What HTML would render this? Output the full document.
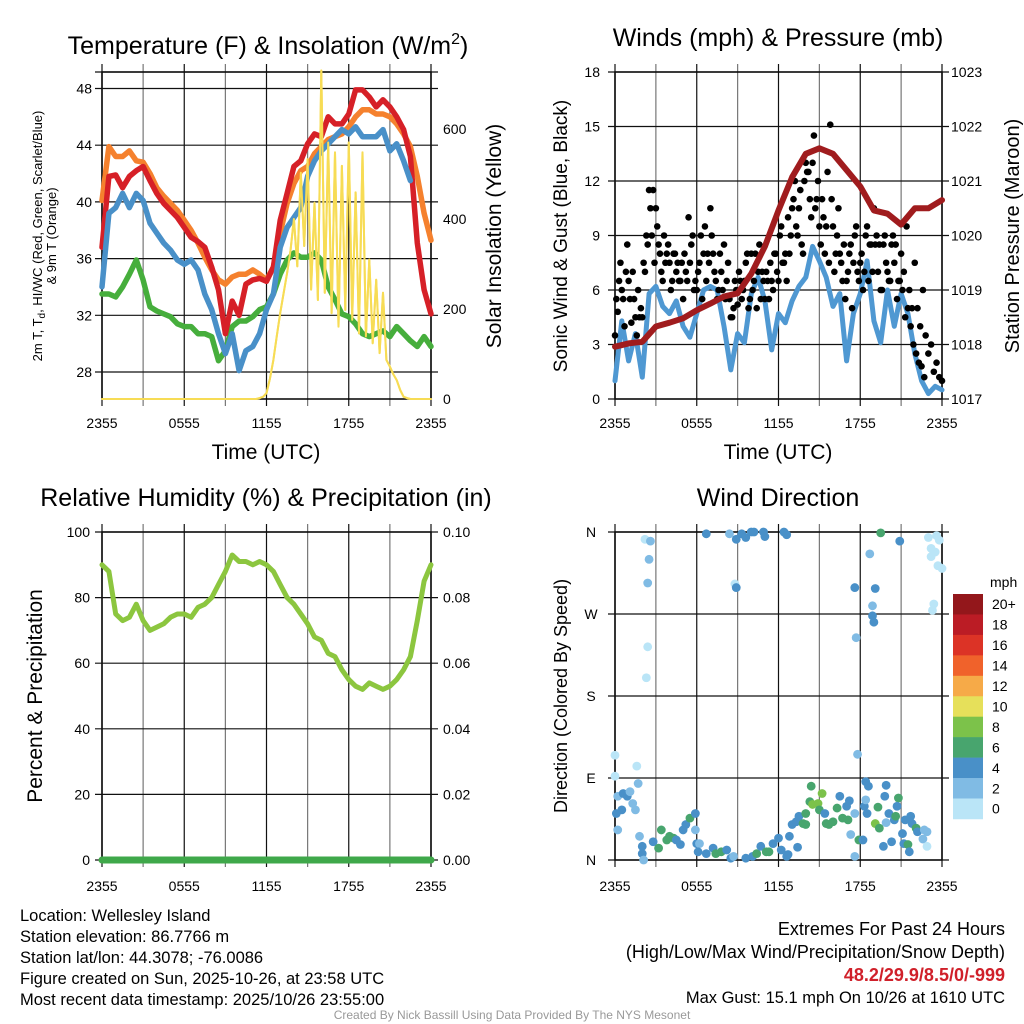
<!DOCTYPE html>
<html><head><meta charset="utf-8">
<style>
html,body{margin:0;padding:0;background:#fff;}
svg{display:block;font-family:"Liberation Sans",sans-serif;}
</style></head>
<body>
<svg id="chart" width="1024" height="1024" viewBox="0 0 1024 1024" xmlns="http://www.w3.org/2000/svg">
<rect x="0" y="0" width="1024" height="1024" fill="#fff"/>
<g id="p1"></g>
<g id="p2"></g>
<g id="p3"></g>
<g id="p4"></g>
<g id="txt">
<text x="268" y="54" font-size="25" text-anchor="middle">Temperature (F) &amp; Insolation (W/m<tspan font-size="16" dy="-10">2</tspan><tspan dy="10">)</tspan></text>
<text x="778" y="46" font-size="25" text-anchor="middle">Winds (mph) &amp; Pressure (mb)</text>
<text x="266" y="506" font-size="25" text-anchor="middle">Relative Humidity (%) &amp; Precipitation (in)</text>
<text x="778" y="506" font-size="25" text-anchor="middle">Wind Direction</text>
<text x="266" y="459" font-size="21" text-anchor="middle">Time (UTC)</text>
<text x="778" y="459" font-size="21" text-anchor="middle">Time (UTC)</text>
<text transform="translate(42,236) rotate(-90)" font-size="13" text-anchor="middle">2m T, T<tspan font-size="10" dy="3">d</tspan><tspan dy="-3">, HI/WC (Red, Green, Scarlet/Blue)</tspan></text>
<text transform="translate(56,236) rotate(-90)" font-size="13" text-anchor="middle">&amp; 9m T (Orange)</text>
<text transform="translate(501,236) rotate(-90)" font-size="21" text-anchor="middle">Solar Insolation (Yellow)</text>
<text transform="translate(567,236) rotate(-90)" font-size="19" text-anchor="middle">Sonic Wind &amp; Gust (Blue, Black)</text>
<text transform="translate(1019,236) rotate(-90)" font-size="20" text-anchor="middle">Station Pressure (Maroon)</text>
<text transform="translate(42,696) rotate(-90)" font-size="21" text-anchor="middle">Percent &amp; Precipitation</text>
<text transform="translate(567,696) rotate(-90)" font-size="18" text-anchor="middle">Direction (Colored By Speed)</text>
<g font-size="16.5">
<text x="20" y="921">Location: Wellesley Island</text>
<text x="20" y="942">Station elevation: 86.7766 m</text>
<text x="20" y="963">Station lat/lon: 44.3078; -76.0086</text>
<text x="20" y="984">Figure created on Sun, 2025-10-26, at 23:58 UTC</text>
<text x="20" y="1005">Most recent data timestamp: 2025/10/26 23:55:00</text>
</g>
<g font-size="18" text-anchor="end">
<text x="1005" y="935">Extremes For Past 24 Hours</text>
<text x="1005" y="958">(High/Low/Max Wind/Precipitation/Snow Depth)</text>
<text x="1005" y="981" fill="#d0202a" font-weight="bold">48.2/29.9/8.5/0/-999</text>
<text x="1005" y="1003" font-size="16.5">Max Gust: 15.1 mph On 10/26 at 1610 UTC</text>
</g>
<text x="512" y="1019" font-size="12" fill="#999" text-anchor="middle">Created By Nick Bassill Using Data Provided By The NYS Mesonet</text>
</g>
</svg>
<script>
// ---------- data ----------
const xTickLabels = ["2355","0555","1155","1755","2355"];
const tempTicks = [28,32,36,40,44,48];
const solarTicks = [0,200,400,600];
const windTicks = [0,3,6,9,12,15,18];
const pressTicks = [1017,1018,1019,1020,1021,1022,1023];
const rhTicks = [0,20,40,60,80,100];
const precipTicks = ["0.00","0.02","0.04","0.06","0.08","0.10"];
const dirTicks = ["N","E","S","W","N"];

const tempRed = [36.8,41.8,41.9,41,41.8,42.2,42.5,41.5,40.6,39.9,39.4,38.9,38.2,37.5,37.2,36.8,35.4,33.8,30.7,33,32,34.2,34.5,34.6,34.4,35.4,38.7,40.6,42.5,42.9,44.1,44.8,44.6,46,45.5,45.5,46.2,47.9,47.9,47.4,46.7,47.2,46.7,46,45.1,43.2,37.1,33.8,32.1];
const temp9m = [40.1,43.9,43.2,43.2,43.6,42.9,42.8,42,41,40.4,39.9,39.4,38.7,38,37.1,36.1,35.2,34.5,34.2,34.7,34.9,34.9,35.2,34.9,34.5,35.4,37.8,39.9,41.3,42.2,42.5,43.4,43.9,44.4,44.6,44.8,45.3,46,46.5,46.5,46.2,46.2,46,45.5,44.8,43.9,41.8,39.2,37.3];
const tempBlue = [34,39.2,39.6,40.6,39.6,40.6,40.1,38.5,37.8,37.1,36.6,35.9,35.6,35.9,35.2,33.5,32.4,30.7,29.3,30.7,28.1,29.5,29.8,30.7,32.4,33.5,36.8,38.2,38.9,39.6,41.8,42.9,43.6,44.1,44.6,45.1,44.8,45.3,44.6,44.6,44.6,45.1,43.6,44.1,42.9,41.5];
const tempGreen = [33.5,33.5,33.3,34,34.9,35.9,34.5,32.6,32.3,32.1,31.9,31.4,31.2,31.2,30.7,30.7,30.5,28.8,29.5,31.2,31.6,31.6,31.9,32.4,32.6,33.5,34.9,35.9,36.4,36.1,36.1,36.4,35.9,34,33.1,32.1,31.9,31.4,30.7,30.5,30.7,30.9,30.5,31.2,30.7,30.2,29.8,30.5,29.8];
const solar = [0,0,0,0,0,0,0,0,0,0,0,0,0,0,0,0,0,0,0,0,0,0,0,0,0,0,0,0,0,0,0,0,0,0,0,0,0,0,0,0,0,0,0,0,0,0,2,5,13,45,87,140,191,235,280,330,400,295,503,340,533,243,436,220,730,236,570,191,548,161,518,198,570,176,459,146,548,139,310,124,265,102,236,87,72,55,42,20,5,2,0,0,0,0,0,0,0];

const windSpeed = [1,4.3,2.1,3.6,1.2,5.8,6.2,5.1,4.7,5.4,4,3.4,4.7,6,6.2,6,4,1.6,3.6,3.1,5.8,6.7,5.4,2.7,4.7,4.2,5.4,6.2,6.7,8.4,7.6,6.7,5.1,5.8,2.1,4.7,5.8,7.6,4.3,3.1,6,4,5.8,4.7,2.5,1,0.3,0.7,0.5];
const gustA = [3.5,4.8,7.5,5.5,7,6.5,4.2,5.5,3.5,4.5,4.5,7,8.5,10.5,11.5,10.5,8.5,7,9,8,7.5,6.5,8,7.5,6.5,5.5,7,10,8.5,6,6,7.5,5.5,9.5,8,10.5,8,6.5,6,7,8.5,6.5,5.5,4.5,6.5,5.2,6.5,6,7.5,5,8,6.5,5,8.5,7,5.5,6.5,7.5,6,8,6.5,9.5,7.5,6.5,8,10.5,12,9,11.5,8,13,12.5,10,14.5,11,9.5,11,8,12.5,15.1,9.5,8,10.5,7.5,8.5,6.5,8,5,9,7,7.5,6,9,6.5,8.5,10.5,9,8.5,6,9,7,6.5,9,8.5,6.5,8,7,9.5,6,5,7.5,5,4,6,3.5,2.5,3,1.5,2,1.2,1];
const gustB = [5.5,6.5,6,4,8.5,5.5,7,4.5,6,5,7.5,9,11.5,9,7.5,9.5,8,6.5,7.5,8.5,6,8,7,6.5,7.5,8,6.5,7.5,9,6.5,7,9,8,6.5,7.5,9,7,5.5,8,6,5.5,7.5,4.5,5,6,7,5.5,6.5,8,5.5,6,8,7,5.5,6.5,7,5.5,6.5,8,7,9,7.5,8,10,9,11,9.5,10.5,8.5,12,12.5,11,13,10.5,12,8.5,10,9.5,7.5,11,7,9,8,6.5,5.5,7,8.5,7.5,9.5,6.5,8,7,9.5,8.5,7,8.5,7,6,8.5,7.5,6.5,8.5,7.5,5.5,6.5,6,4.5,5,4,3,2.5,2,1.8,1.2];
const pressure = [1017.96,1018.02,1018.05,1018.33,1018.4,1018.48,1018.63,1018.75,1018.88,1018.94,1019.3,1019.8,1020.46,1021.07,1021.5,1021.6,1021.5,1021.2,1020.9,1020.46,1020.4,1020.2,1020.5,1020.5,1020.65];

const rh = [90,88,75,73,74,78,73,70,71,72,74,75,75,74,77,78,80,84,88,93,91,91,90,91,90,88,84,80,78,75,72,68,67,63,62,58,55,53,52,54,53,52,53,55,58,62,73,85,90];
const precip = [0,0,0,0,0,0,0,0,0,0,0,0,0,0,0,0,0,0,0,0,0,0,0,0,0];

const dirHours = [2.2,2.6,2.5,2.4,2.4,2.3,0,0,1.6,1.7,0.2,0.6,0.9,1.1,1.3,0.5,0.1,1.5,0.2,1.8,2,2,2.1,2.8,3.2,3.4,3.8,4,4.3,4.5,4.8,5,5.2,5.5,5.9,5.9,6,6.2,6.1,6.7,7.2,7.4,7.8,8.2,8.5,8.7,6.7,8.4,8.9,9.3,9.6,10,10.2,10.9,11,12.4,12.6,8.8,8.9,9.6,10.1,10.4,10.7,11.1,11.3,11.6,12,12.2,12.6,12.7,12.8,13,13.3,13.5,13.4,13.8,14,14,14.4,14.3,14.5,14.9,15.2,15,15.4,15.5,15.7,16,16.3,16.5,16.7,17,17.1,17.2,17.3,17.6,17.6,17.7,17.6,17.8,17.9,18.2,18.3,18.4,18.4,18.6,18.5,18.7,18.9,18.9,19,19.1,19.3,19.1,19.4,19.5,19.7,19.8,19.9,19.9,20.1,20.3,20.5,20.6,20.8,20.7,20.9,21.1,21.2,21.3,21.5,21.6,21.7,21.8,22.1,22.2,22.7,22.9,22.6,22.9,23,23.6,23.8,23.2,23.5,23.2,23.7,24,23.4,23.3];
const dirDeg = [352,350,330,304,234,200,115,92,103,84,70,73,70,75,62,55,51,55,33,26,15,7,0,20,13,33,22,26,24,22,17,33,39,46,51,33,18,18,9,7,13,7,9,11,2,4,358,358,352,358,354,360,360,360,355,360,357,303,299,2,4,7,15,9,9,18,24,11,4,6,26,39,42,48,14,40,39,51,81,64,61,62,73,55,51,40,39,42,57,70,46,59,44,65,28,51,4,244,299,116,22,22,59,86,66,81,51,336,279,268,261,298,58,40,35,359,15,70,82,41,51,20,44,48,68,59,350,29,18,44,17,9,48,40,35,31,33,31,23,15,354,356,351,342,338,333,323,320,281,274];
const dirSpeed = [1,3,3,3,1,1,1,1,1,3,3,5,5,3,3,5,5,3,3,3,5,5,3,5,7,7,7,7,7,5,5,5,5,7,5,3,5,3,5,5,5,7,7,5,5,3,5,3,5,5,5,5,5,5,5,5,5,1,5,5,5,7,5,7,7,5,5,5,5,5,5,5,5,5,5,7,7,7,7,7,9,9,9,7,5,7,7,7,7,5,7,5,7,5,3,3,3,3,5,3,7,5,5,5,3,5,5,3,3,5,5,5,7,9,7,7,5,5,5,3,5,5,5,7,7,5,5,5,5,5,7,5,5,5,7,5,3,3,3,1,1,1,1,1,1,1,1,1,1,1];

const cbLabels = ["20+","18","16","14","12","10","8","6","4","2","0"];
const cbColors = ["#93171b","#bb1c25","#dc3326","#f0622b","#f6aa48","#e6e05a","#7cc24a","#48a56e","#4990c8","#80bbe4","#bae5f7"];

// ---------- helpers ----------
const NS="http://www.w3.org/2000/svg";
function mk(parent,tag,attrs){const e=document.createElementNS(NS,tag);for(const k in attrs)e.setAttribute(k,attrs[k]);parent.appendChild(e);return e;}
function frame(g,L,R,T,B,xs){
  for(let h=0;h<=24;h+=3){const x=xs(h);
    const l=mk(g,'line',{x1:x,x2:x,y1:T-8,y2:B+7,stroke:(h%6===0)?'#111':'#777','stroke-width':1.2});
    
    }
  const r=mk(g,'rect',{x:L,y:T,width:R-L,height:B-T,fill:'none',stroke:'#000','stroke-width':1.5});
  
  
}
function hline(g,y,L,R){const l=mk(g,'line',{x1:L-7,x2:R+7,y1:y,y2:y,stroke:'#111','stroke-width':1.2});
  
  }
function label(g,x,y,s,anchor,size,name){const t=mk(g,'text',{x:x,y:y,'font-size':size||14,'text-anchor':anchor||'middle'});t.textContent=s;
  
  return t;}
function poly(g,xs,ys,hours,vals,color,w,name){let d='';let pen=false;
  vals.forEach((v,i)=>{if(v===null){pen=false;return;}d+=(pen?'L':'M')+xs(hours(i)).toFixed(1)+','+ys(v).toFixed(1);pen=true;});
  const p=mk(g,'path',{d:d,fill:'none',stroke:color,'stroke-width':w,'stroke-linejoin':'round','stroke-linecap':'round'});
  
  return p;}

// ---------- panel 1 ----------
(function(){
  const g=document.getElementById('p1');const L=102,R=431,T=72,B=399;
  const xs=h=>L+h/24*(R-L);const yT=t=>372-(t-28)*56.7/4;const yS=w=>B-w*0.45;
  frame(g,L,R,T,B,xs);hline(g,T,L,R);
  tempTicks.forEach(t=>{hline(g,yT(t),L,R);label(g,L-10,yT(t)+5,String(t),'end',14,'temp-tick-label');});
  solarTicks.forEach(w=>{label(g,R+12,yS(w)+5,String(w),'start',14,'solar-tick-label');});
  xTickLabels.forEach((s,i)=>label(g,xs(i*6),428,s,'middle',14,'x-tick-label'));
  const hh=i=>i*0.5;
  poly(g,xs,yS,i=>i*0.25,solar,'#f7dc55',2,'solar-line');
  poly(g,xs,yT,hh,tempGreen,'#46ae3c',5.5,'dewpoint-line');
  poly(g,xs,yT,hh,temp9m,'#f5812e',5.5,'temp-9m-line');
  poly(g,xs,yT,hh,tempRed,'#d62027',5.5,'temp-2m-line');
  poly(g,xs,yT,hh,tempBlue,'#4990c8',5.5,'windchill-line');
  poly(g,xs,yS,i=>i*0.25,solar,'#f7dc55',2,'solar-line-top');
})();

// ---------- panel 2 ----------
(function(){
  const g=document.getElementById('p2');const L=615,R=942,T=72,B=399;
  const xs=h=>L+h/24*(R-L);const yW=m=>B-m*(B-T)/18;const yP=p=>B-(p-1017)*(B-T)/6;
  frame(g,L,R,T,B,xs);
  windTicks.forEach(m=>{hline(g,yW(m),L,R);label(g,L-15,yW(m)+5,String(m),'end',14,'wind-tick-label');});
  pressTicks.forEach(p=>label(g,R+9,yP(p)+5,String(p),'start',14,'pressure-tick-label'));
  xTickLabels.forEach((s,i)=>label(g,xs(i*6),428,s,'middle',14,'x-tick-label'));
  poly(g,xs,yW,i=>i*0.5,windSpeed,'#4f98d2',5,'wind-speed-line');
  gustA.forEach((v,i)=>{const c=mk(g,'circle',{cx:xs(i*0.2),cy:yW(v),r:3.3,fill:'#000'});
    
    });
  gustB.forEach((v,i)=>{const c=mk(g,'circle',{cx:xs(0.1+i*0.2),cy:yW(v),r:3.3,fill:'#000'});
    
    });
  poly(g,xs,yP,i=>i,pressure,'#a01c1e',6,'pressure-line');
})();

// ---------- panel 3 ----------
(function(){
  const g=document.getElementById('p3');const L=102,R=431,T=532,B=860;
  const xs=h=>L+h/24*(R-L);const yR=v=>B-v*(B-T)/100;const yPr=v=>B-v*(B-T)/0.1;
  frame(g,L,R,T,B,xs);
  rhTicks.forEach((v,i)=>{hline(g,yR(v),L,R);label(g,L-12,yR(v)+5,String(v),'end',14,'rh-tick-label');label(g,R+12,yR(v)+5,precipTicks[i],'start',14,'precip-tick-label');});
  xTickLabels.forEach((s,i)=>label(g,xs(i*6),891,s,'middle',14,'x-tick-label'));
  poly(g,xs,yR,i=>i*0.5,rh,'#8cc63f',5,'humidity-line');
  poly(g,xs,yPr,i=>i,precip,'#3fa84a',7,'precip-line');
})();

// ---------- panel 4 ----------
(function(){
  const g=document.getElementById('p4');const L=615,R=942,T=532,B=860;
  const xs=h=>L+h/24*(R-L);const yD=d=>B-d*(B-T)/360;
  frame(g,L,R,T,B,xs);
  dirTicks.forEach((s,i)=>{hline(g,yD(i*90),L,R);label(g,591,yD(i*90)+5,s,'middle',14,'direction-tick-label');});
  xTickLabels.forEach((s,i)=>label(g,xs(i*6),891,s,'middle',14,'x-tick-label'));
  const colorFor=s=>{let idx=Math.min(10,Math.floor(s/2));return cbColors[10-idx];};
  dirHours.forEach((h,i)=>{const c=mk(g,'circle',{cx:xs(h),cy:yD(dirDeg[i]),r:4.4,fill:colorFor(dirSpeed[i])});
    
    });
  const cb=mk(g,'g',{});
  
  
  const top=594,bh=20.45;
  cbColors.forEach((c,i)=>{const r=mk(cb,'rect',{x:953,y:top+i*bh,width:30,height:bh+0.3,fill:c});
    
    
    label(cb,992,top+i*bh+bh/2+5,cbLabels[i],'start',14,'colorbar-label');});
  label(cb,990,587,'mph','start',14,'colorbar-title');
})();
</script>
</body></html>
